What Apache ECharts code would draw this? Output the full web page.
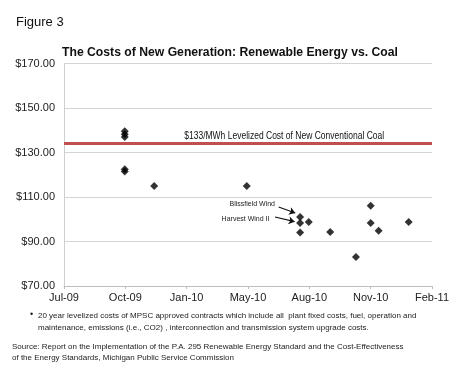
<!DOCTYPE html>
<html>
<head>
<meta charset="utf-8">
<script src="https://cdn.jsdelivr.net/npm/echarts@6/dist/echarts.min.js"></script>
<style>
  html, body { margin: 0; padding: 0; background: #fff; }
  #main { width: 464px; height: 376px; }
</style>
</head>
<body>
<div id="main"></div>
<script>
// x positions are in axis-tick units (0 = Jul-09, 1 = Oct-09, ... 6 = Feb-11)
var tickLabels = ['Jul-09', 'Oct-09', 'Jan-10', 'May-10', 'Aug-10', 'Nov-10', 'Feb-11']
var contractDates = [0.99, 0.99, 0.99, 0.99, 0.99, 1.47, 2.98, 3.85, 3.85, 3.85, 3.99, 4.34, 4.76, 5.0, 5.0, 5.13, 5.62]
var contractCosts = [139.5, 138.2, 137, 122.5, 121.5, 115, 115, 101, 98.3, 94, 98.8, 94.3, 83, 106.1, 98.3, 94.8, 98.8]
var coalCost = 134
var coalLabel = '$133/MWh Levelized Cost of New Conventional Coal'
var coalLabelAt = 1.96
var notes = [
  {name: 'Blissfield Wind', text: [3.44, 107], from: [3.5, 105.5], to: [3.77, 102.8]},
  {name: 'Harvest Wind II', text: [3.35, 100.3], from: [3.44, 101], to: [3.76, 98.9]}
]

var points = contractDates.map(function (d, i) { return [d, contractCosts[i]] })
var font = 'Liberation Sans, Arial, sans-serif'

var myChart = echarts.init(document.getElementById('main'))
myChart.setOption({
  animation: false,
  grid: { left: 64, right: 32, top: 63.5, bottom: 90 },
  xAxis: {
    type: 'value', min: 0, max: 6, interval: 1,
    axisLine: { lineStyle: { color: '#bdbdbd' } },
    axisTick: { length: 3, lineStyle: { color: '#bdbdbd' } },
    splitLine: { show: false },
    axisLabel: {
      color: '#222', fontFamily: font, fontSize: 11, margin: 6,
      formatter: function (v) { return tickLabels[Math.round(v)] }
    }
  },
  yAxis: {
    type: 'value', min: 70, max: 170, interval: 20,
    axisLine: { show: true, lineStyle: { color: '#cfcfcf' } },
    axisTick: { show: false },
    splitLine: { lineStyle: { color: '#d4d4d4' } },
    axisLabel: {
      color: '#222', fontFamily: font, fontSize: 11, margin: 9,
      formatter: function (v) { return '$' + v.toFixed(2) }
    }
  },
  title: [
    { text: 'Figure 3', left: 11, top: 11, textStyle: { fontFamily: font, fontSize: 13, fontWeight: 'normal', color: '#111' } },
    { text: 'The Costs of New Generation: Renewable Energy vs. Coal', left: 57, top: 42, textStyle: { fontFamily: font, fontSize: 12.2, fontWeight: 'bold', color: '#111' } }
  ],
  series: [
    {
      type: 'scatter',
      symbol: 'diamond',
      symbolSize: 8,
      itemStyle: { color: '#000' },
      data: points,
      markLine: {
        silent: true,
        symbol: 'none',
        data: [{ yAxis: coalCost }],
        lineStyle: { color: '#c0504d', width: 3, type: 'solid' },
        label: { show: false }
      }
    },
    {
      type: 'scatter',
      symbolSize: 0,
      silent: true,
      data: [],
      markLine: {
        silent: true,
        symbol: ['none', 'arrow'],
        symbolSize: 6,
        lineStyle: { color: '#111', width: 1.2, type: 'solid' },
        label: { show: false },
        data: notes.map(function (n) { return [{ coord: n.from }, { coord: n.to }] })
      }
    }
  ]
})

var graphics = notes.map(function (n) {
  var p = myChart.convertToPixel({ gridIndex: 0 }, n.text)
  return {
    type: 'text', x: p[0], y: p[1],
    style: { text: n.name, fill: '#222', font: '7px Liberation Sans, Arial, sans-serif', textAlign: 'right', textVerticalAlign: 'middle' }
  }
})
var cp = myChart.convertToPixel({ gridIndex: 0 }, [coalLabelAt, coalCost])
graphics.push({
  type: 'text', x: cp[0], y: cp[1] - 7, scaleX: 0.81,
  style: { text: coalLabel, fill: '#111', font: '10.5px Liberation Sans, Arial, sans-serif', textVerticalAlign: 'middle' }
})
graphics.push({
  type: 'text', x: 30, y: 310,
  style: { text: '•', fill: '#222', font: '9px Liberation Sans, Arial, sans-serif' }
})
graphics.push({
  type: 'text', x: 38, y: 310,
  style: {
    text: '20 year levelized costs of MPSC approved contracts which include all  plant fixed costs, fuel, operation and\nmaintenance, emissions (i.e., CO2) , interconnection and transmission system upgrade costs.',
    fill: '#222', font: '8px Liberation Sans, Arial, sans-serif', lineHeight: 12
  }
})
graphics.push({
  type: 'text', x: 12, y: 341,
  style: {
    text: 'Source: Report on the Implementation of the P.A. 295 Renewable Energy Standard and the Cost-Effectiveness\nof the Energy Standards, Michigan Public Service Commission',
    fill: '#222', font: '8px Liberation Sans, Arial, sans-serif', lineHeight: 11
  }
})
myChart.setOption({ graphic: graphics })
</script>
</body>
</html>
